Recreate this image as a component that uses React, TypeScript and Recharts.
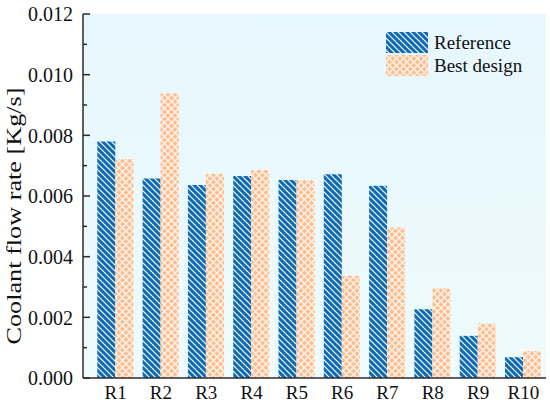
import { BarChart, Bar, XAxis, YAxis, CartesianGrid, Legend } from "recharts";

const categories = ["R1", "R2", "R3", "R4", "R5", "R6", "R7", "R8", "R9", "R10"];
const referenceFlow = [0.0078, 0.00658, 0.00636, 0.00666, 0.00653, 0.00672, 0.00634, 0.00227, 0.00139, 0.00068];
const bestDesignFlow = [0.00722, 0.00939, 0.00673, 0.00686, 0.00653, 0.00337, 0.00496, 0.00296, 0.0018, 0.00089];
const majorTicks = [0, 0.002, 0.004, 0.006, 0.008, 0.01, 0.012];
const minorTicks = [0.001, 0.003, 0.005, 0.007, 0.009, 0.011];

const data = categories.map((name, i) => ({
    name,
    reference: referenceFlow[i],
    best: bestDesignFlow[i],
}));
const allTicks = [...majorTicks, ...minorTicks].sort((a, b) => a - b);

const SERIF = "Liberation Serif, Times New Roman, serif";
const FRAME = "#2b2b2b";

const series = [
    { key: "reference", name: "Reference", fill: "url(#refHatch)" },
    { key: "best", name: "Best design", fill: "url(#bestHatch)" },
];

// y ticks drawn by hand so they can point inward, with short minor ones
function YTick(props: any) {
    const { x, y, payload } = props;
    const major = majorTicks.includes(payload.value);
    return (
        <g>
            <line x1={x + 10} x2={x + 10 + (major ? 7 : 4)} y1={y} y2={y} stroke={FRAME} strokeWidth={1.5} />
            {major && (
                <text x={x} y={y} dy="0.36em" textAnchor="end" style={{ fontFamily: SERIF }} fontSize={20} fill="#111">
                    {payload.value.toFixed(3)}
                </text>
            )}
        </g>
    );
}

function XTick(props: any) {
    const { x, y, payload } = props;
    return (
        <text x={x} y={y} dy="0.71em" textAnchor="middle" style={{ fontFamily: SERIF }} fontSize={19} fill="#111">
            {payload.value}
        </text>
    );
}

function LegendBox() {
    return (
        <div style={{ display: "flex", flexDirection: "column", gap: 2 }}>
            {series.map((s) => (
                <div key={s.key} style={{ display: "flex", alignItems: "center", height: 21 }}>
                    <svg width={42} height={21} style={{ display: "block" }}>
                        <rect width={42} height={21} fill={s.fill} />
                    </svg>
                    <span style={{ marginLeft: 6, fontFamily: SERIF, fontSize: 19, color: "#111", lineHeight: "21px" }}>
                        {s.name}
                    </span>
                </div>
            ))}
        </div>
    );
}

export default function App() {
    return (
        <div style={{ position: "absolute", left: 0, top: 0, width: 550, height: 403, background: "#fff", fontFamily: SERIF }}>
            <BarChart
                width={550}
                height={403}
                data={data}
                margin={{ top: 14, right: 4, bottom: 0, left: 0 }}
                barCategoryGap="9.5%"
                barGap={0}
                style={{ fontFamily: SERIF }}
            >
                <defs>
                    <linearGradient id="plotBg" x1="0" y1="0" x2="0" y2="1">
                        <stop offset="0%" stopColor="#e6f7fd" />
                        <stop offset="100%" stopColor="#effbfc" />
                    </linearGradient>
                    <pattern id="refHatch" patternUnits="userSpaceOnUse" width={6} height={6}>
                        <rect width={6} height={6} fill="#0d6ab4" />
                        <path d="M0,0 L6,6 M-1,5 L1,7 M5,-1 L7,1" stroke="#ffffff" strokeWidth={1.2} />
                    </pattern>
                    <pattern id="bestHatch" patternUnits="userSpaceOnUse" width={7} height={7}>
                        <rect width={7} height={7} fill="#fdbd8f" />
                        <path d="M0,0 L7,7 M7,0 L0,7" stroke="#fff3ea" strokeWidth={1.4} />
                    </pattern>
                </defs>
                <CartesianGrid horizontal={false} vertical={false} fill="url(#plotBg)" />
                <XAxis
                    dataKey="name"
                    height={25}
                    interval={0}
                    padding={{ left: 10, right: 0 }}
                    tickLine={false}
                    tickSize={0}
                    tickMargin={8}
                    axisLine={{ stroke: FRAME, strokeWidth: 1.5 }}
                    tick={<XTick />}
                />
                <XAxis
                    xAxisId="top"
                    orientation="top"
                    dataKey="name"
                    height={0}
                    tick={false}
                    tickLine={false}
                    axisLine={{ stroke: FRAME, strokeWidth: 1.5 }}
                />
                <YAxis
                    width={83}
                    domain={[0, 0.012]}
                    ticks={allTicks}
                    interval={0}
                    tickLine={false}
                    tickSize={0}
                    tickMargin={10}
                    axisLine={{ stroke: FRAME, strokeWidth: 1.5 }}
                    tick={<YTick />}
                    label={{
                        content: () => (
                            <text
                                x={21}
                                y={216}
                                transform="rotate(-90 21 216)"
                                textAnchor="middle"
                                style={{ fontFamily: SERIF }}
                                fontSize={21}
                                fill="#111"
                                textLength={257}
                                lengthAdjust="spacingAndGlyphs"
                            >
                                Coolant flow rate [Kg/s]
                            </text>
                        ),
                    }}
                />
                <YAxis
                    yAxisId="right"
                    orientation="right"
                    width={0}
                    tick={false}
                    tickLine={false}
                    axisLine={{ stroke: FRAME, strokeWidth: 1.5 }}
                />
                <Legend
                    layout="vertical"
                    align="center"
                    verticalAlign="middle"
                    wrapperStyle={{ top: 32, left: 386, width: 160, height: 46 }}
                    content={() => <LegendBox />}
                />
                {series.map((s) => (
                    <Bar key={s.key} dataKey={s.key} name={s.name} fill={s.fill} isAnimationActive={false} />
                ))}
            </BarChart>
        </div>
    );
}
